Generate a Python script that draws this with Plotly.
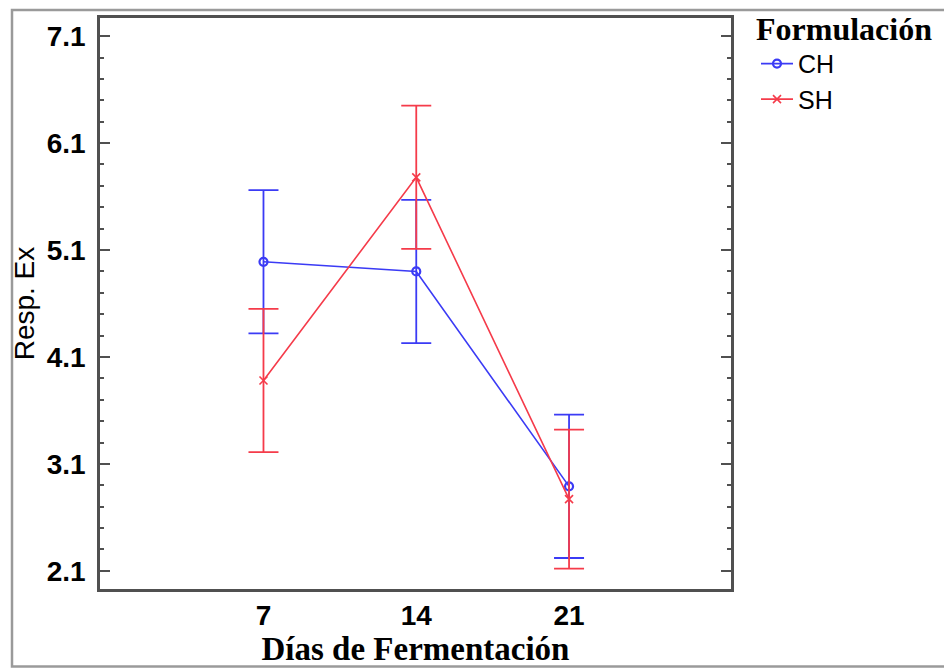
import plotly.graph_objects as go

# %%
dias = ['7', '14', '21']
ch_media = [4.99, 4.90, 2.89]
ch_err = [0.67, 0.67, 0.67]
sh_media = [3.88, 5.78, 2.77]
sh_err = [0.67, 0.67, 0.65]

azul = '#3b3bf5'
vermelho = '#f53b4a'

# a pagina tem margem de 8px no body
W, H = 944, 661
ml, mr, mt, mb = 92, 221, 7, 80
pw, ph = W - ml - mr, H - mt - mb

# %%
fig = go.Figure()
fig.add_trace(go.Scatter(
    x=dias, y=ch_media, name='CH', mode='lines+markers',
    line=dict(color=azul, width=1.6),
    marker=dict(symbol='circle-open', size=8, color=azul, line=dict(width=2.2)),
    error_y=dict(type='data', array=ch_err, color=azul, thickness=1.8, width=15),
))
fig.add_trace(go.Scatter(
    x=dias, y=sh_media, name='SH', mode='lines+markers',
    line=dict(color=vermelho, width=1.6),
    marker=dict(symbol='x-thin', size=8, color=vermelho, line=dict(width=1.6, color=vermelho)),
    error_y=dict(type='data', array=sh_err, color=vermelho, thickness=1.8, width=15),
))

# moldura externa da figura
fig.add_shape(type='rect', xref='paper', yref='paper',
              x0=(4 - ml) / pw, x1=(W + 5 - ml) / pw,
              y0=(H - mb - 659) / ph, y1=1 + (mt + 1) / ph,
              line=dict(color='#9a9a9a', width=2.5))

# titulo da legenda
fig.add_annotation(text='<b>Formulación</b>', xref='paper', yref='paper',
                   x=(746 - ml) / pw, y=(H - mb - 18) / ph, xanchor='left', yanchor='middle',
                   showarrow=False, font=dict(family='Liberation Serif', size=32, color='black'))

fig.update_layout(
    width=W, height=H,
    margin=dict(l=ml, r=mr, t=mt, b=mb),
    plot_bgcolor='white', paper_bgcolor='white',
    font=dict(family='Liberation Sans', color='black'),
    legend=dict(
        x=(748 - ml) / pw, y=0.96, xanchor='left', yanchor='top',
        font=dict(family='Liberation Sans', size=25),
        tracegroupgap=0, itemwidth=32, bgcolor='rgba(0,0,0,0)',
    ),
)
fig.update_xaxes(
    type='category', range=[-1.07, 3.06],
    showline=True, mirror=True, linecolor='#505050', linewidth=2.5,
    ticks='', showgrid=False,
    tickfont=dict(family='Liberation Sans', size=28),
    ticklabelstandoff=0,
    tickprefix='<b>', ticksuffix='</b>',
    title=dict(text='<b>Días de Fermentación</b>', font=dict(family='Liberation Serif', size=33), standoff=0),
)
fig.update_yaxes(
    range=[1.93, 7.27], tick0=2.1, dtick=1, tickformat='.1f',
    showline=True, mirror='ticks', linecolor='#505050', linewidth=2.5,
    ticks='inside', ticklen=10, tickwidth=2, tickcolor='#505050',
    minor=dict(dtick=0.2, tick0=2.1, ticks='inside', ticklen=4, tickwidth=2, tickcolor='#505050', showgrid=False),
    showgrid=False, zeroline=False,
    tickfont=dict(family='Liberation Sans', size=28),
    tickprefix='<b>', ticksuffix='</b>',
    ticklabelstandoff=6,
    title=dict(text='Resp. Ex', font=dict(family='Liberation Sans', size=28), standoff=4),
)

fig.write_html('out.html')
